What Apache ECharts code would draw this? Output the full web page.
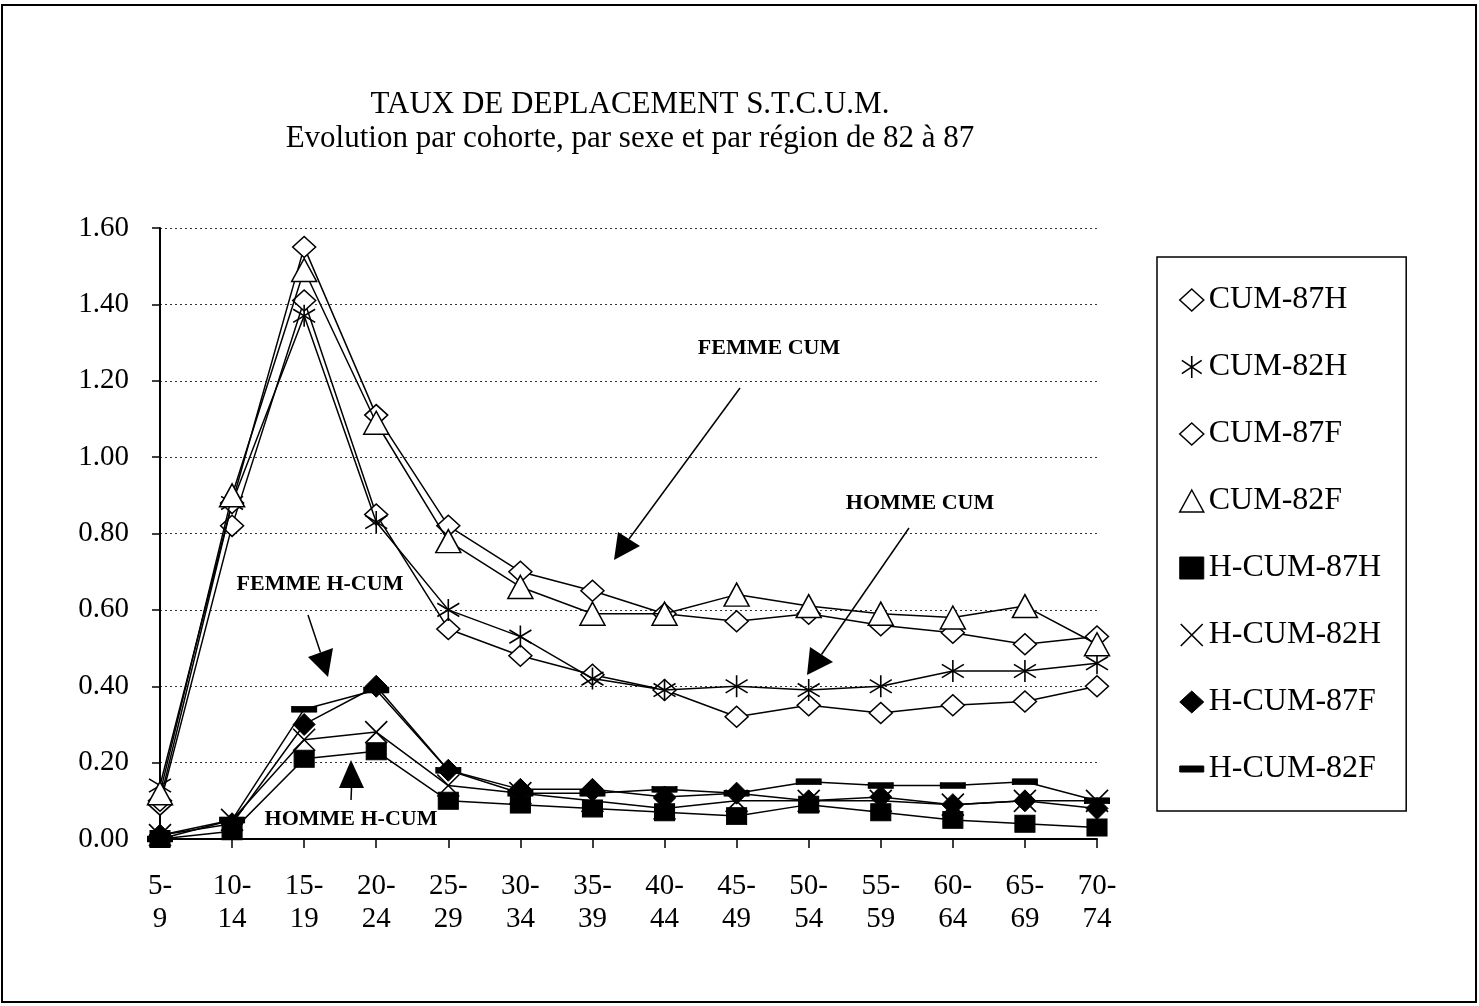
<!DOCTYPE html>
<html>
<head>
<meta charset="utf-8">
<script src="https://cdn.jsdelivr.net/npm/echarts@6/dist/echarts.min.js"></script>
<style>
html,body{margin:0;padding:0;background:#fff;}
#chart{width:1479px;height:1006px;}
</style>
</head>
<body>
<div id="chart"></div>
<script>
// ---- data ----
var categories = ['5-\n9','10-\n14','15-\n19','20-\n24','25-\n29','30-\n34','35-\n39','40-\n44','45-\n49','50-\n54','55-\n59','60-\n64','65-\n69','70-\n74'];
var cum87H  = [0.09, 0.82, 1.41, 0.85, 0.55, 0.48, 0.43, 0.39, 0.32, 0.35, 0.33, 0.35, 0.36, 0.40];
var cum82H  = [0.14, 0.88, 1.37, 0.83, 0.60, 0.53, 0.42, 0.39, 0.40, 0.39, 0.40, 0.44, 0.44, 0.46];
var cum87F  = [0.10, 0.88, 1.55, 1.11, 0.82, 0.70, 0.65, 0.59, 0.57, 0.59, 0.56, 0.54, 0.51, 0.53];
var cum82F  = [0.12, 0.90, 1.49, 1.09, 0.78, 0.66, 0.59, 0.59, 0.64, 0.61, 0.59, 0.58, 0.61, 0.51];
var hcum87H = [0.00, 0.02, 0.21, 0.23, 0.10, 0.09, 0.08, 0.07, 0.06, 0.09, 0.07, 0.05, 0.04, 0.03];
var hcum82H = [0.01, 0.05, 0.26, 0.28, 0.14, 0.12, 0.10, 0.08, 0.10, 0.10, 0.10, 0.09, 0.10, 0.10];
var hcum87F = [0.01, 0.04, 0.30, 0.40, 0.18, 0.13, 0.13, 0.11, 0.12, 0.10, 0.11, 0.09, 0.10, 0.08];
var hcum82F = [0.00, 0.05, 0.34, 0.39, 0.18, 0.12, 0.12, 0.13, 0.12, 0.15, 0.14, 0.14, 0.15, 0.10];
var yTicks = [0, 0.2, 0.4, 0.6, 0.8, 1.0, 1.2, 1.4, 1.6];
var titleLines = ['TAUX DE DEPLACEMENT S.T.C.U.M.', 'Evolution par cohorte, par sexe et par région de 82 à 87'];
var seriesNames = ['CUM-87H','CUM-82H','CUM-87F','CUM-82F','H-CUM-87H','H-CUM-82H','H-CUM-87F','H-CUM-82F'];

var SERIF = '"Liberation Serif","Times New Roman",serif';
var ASTER = 'path://M0,-10L0,10M-9,-6L9,6M-9,6L9,-6';
var CROSS = 'path://M-10,-10L10,10M-10,10L10,-10';

var hollow = {color:'#fff', borderColor:'#000', borderWidth:1.5};
var stroked = {color:'rgba(0,0,0,0)', borderColor:'#000', borderWidth:1.6};
var filled = {color:'#000', borderColor:'#000', borderWidth:1};

var styles = [
  {symbol:'diamond', size:[23,21], item:hollow},
  {symbol:ASTER, size:22, item:stroked},
  {symbol:'diamond', size:[23,21], item:hollow},
  {symbol:'triangle', size:[25,23], item:hollow},
  {symbol:'rect', size:[20,17], item:filled},
  {symbol:CROSS, size:22, item:stroked},
  {symbol:'diamond', size:[22,22], item:filled},
  {symbol:'rect', size:[24,6], item:filled}
];
var dataArr = [cum87H, cum82H, cum87F, cum82F, hcum87H, hcum82H, hcum87F, hcum82F];

var series = seriesNames.map(function(n, i){
  var s = styles[i];
  return {
    name:n, type:'line', data:dataArr[i],
    symbol:s.symbol, symbolSize:s.size, showAllSymbol:true,
    lineStyle:{color:'#000', width:1.5},
    itemStyle:s.item,
    z: 2 + i,
    animation:false
  };
});

var legendIcons = [
  {icon:'diamond', st:hollow},
  {icon:ASTER, st:stroked},
  {icon:'diamond', st:hollow},
  {icon:'triangle', st:hollow},
  {icon:'rect', st:filled},
  {icon:CROSS, st:stroked},
  {icon:'diamond', st:filled},
  {icon:'path://M0,0L24,0L24,6L0,6Z', st:filled}
];

function arrow(x1,y1,tip,b1,b2){
  return [
    {type:'line', shape:{x1:x1,y1:y1,x2:(b1[0]+b2[0])/2,y2:(b1[1]+b2[1])/2}, style:{stroke:'#000', lineWidth:1.5}, z:100},
    {type:'polygon', shape:{points:[tip,b1,b2]}, style:{fill:'#000'}, z:100}
  ];
}
function label(txt,x,y){
  return {type:'text', x:x, y:y, style:{text:txt, font:'bold 22px '+SERIF, fill:'#000', textAlign:'center', textVerticalAlign:'middle'}, z:100};
}

var graphics = [
  {type:'rect', shape:{x:2,y:5,width:1474,height:997}, style:{fill:'none', stroke:'#000', lineWidth:2}, z:0}
].concat(
  [label('FEMME CUM',769,348)], arrow(740,388,[614,560],[618,532],[640,546]),
  [label('HOMME CUM',920,503)], arrow(909,528,[807,675],[810,647],[833,662]),
  [label('FEMME H-CUM',320,584)], arrow(308,615,[328,677],[308,657],[333,648]),
  [label('HOMME H-CUM',351,819)], arrow(351,800,[351,760],[339,788],[364,788])
);

var chart = echarts.init(document.getElementById('chart'), null, {renderer:'canvas'});
chart.setOption({
  backgroundColor:'#fff',
  animation:false,
  title:{
    text: titleLines.join('\n'),
    left: 625, top: 83, textAlign:'center',
    textStyle:{fontFamily:SERIF, fontSize:31, fontWeight:'normal', color:'#000', lineHeight:34}
  },
  grid:{left:160, right:382, top:228, bottom:167, containLabel:false},
  legend:{
    orient:'vertical', left:1157, top:257,
    padding:[27,25,26,22],
    itemGap:35, itemWidth:24, itemHeight:22, itemTextGap:14,
    borderColor:'#000', borderWidth:1.5, backgroundColor:'#fff',
    textStyle:{fontFamily:SERIF, fontSize:32, color:'#000', lineHeight:32},
    data: seriesNames.map(function(n,i){ return {name:n, icon:legendIcons[i].icon, itemStyle:legendIcons[i].st}; })
  },
  xAxis:{
    type:'category', data:categories, boundaryGap:false,
    axisLine:{lineStyle:{color:'#000', width:2}},
    axisTick:{show:true, length:9, lineStyle:{color:'#000', width:1.5}},
    axisLabel:{fontFamily:SERIF, fontSize:29, color:'#000', lineHeight:33, margin:31, interval:0},
    splitLine:{show:false}
  },
  yAxis:{
    type:'value', min:0, max:1.6, interval:0.2,
    axisLine:{show:true, lineStyle:{color:'#000', width:2}},
    axisTick:{show:true, length:8, lineStyle:{color:'#000', width:1.5}},
    axisLabel:{fontFamily:SERIF, fontSize:29, color:'#000', margin:31,
      formatter:function(v){ return v.toFixed(2); }},
    splitLine:{show:true, lineStyle:{color:'#333', width:1, type:[2,3]}}
  },
  series:series,
  graphic:graphics
});
</script>
</body>
</html>
